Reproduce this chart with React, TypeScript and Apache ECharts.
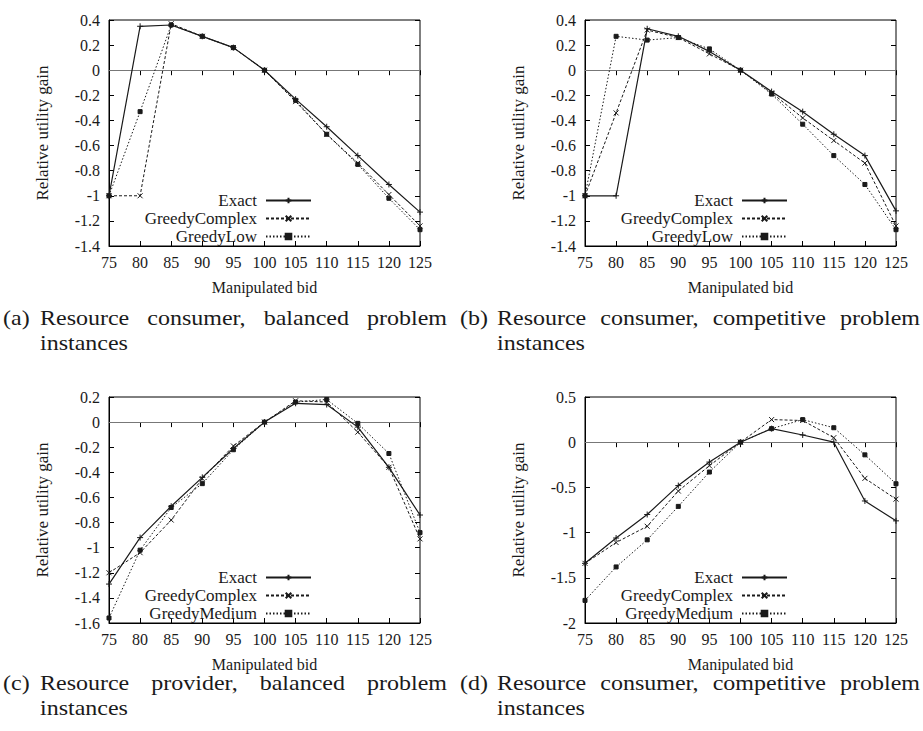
import React, { useEffect, useRef } from "react";
import * as echarts from "echarts";

// ---------- data ----------
const bids = [75, 80, 85, 90, 95, 100, 105, 110, 115, 120, 125];

const aExact = [-1.0, 0.35, 0.36, 0.27, 0.18, 0, -0.23, -0.45, -0.68, -0.91, -1.13];
const aGreedyComplex = [-1.0, -1.0, 0.37, 0.27, 0.18, 0, -0.25, -0.51, -0.74, -0.99, -1.24];
const aGreedyLow = [-1.0, -0.33, 0.36, 0.27, 0.18, 0, -0.24, -0.51, -0.75, -1.02, -1.27];

const bExact = [-1.0, -1.0, 0.33, 0.27, 0.15, 0, -0.17, -0.33, -0.51, -0.68, -1.12];
const bGreedyComplex = [-1.0, -0.34, 0.32, 0.26, 0.13, 0, -0.18, -0.38, -0.56, -0.74, -1.24];
const bGreedyLow = [-1.0, 0.27, 0.24, 0.26, 0.17, 0, -0.19, -0.43, -0.68, -0.91, -1.27];

const cExact = [-1.29, -0.92, -0.67, -0.44, -0.21, 0, 0.15, 0.14, -0.04, -0.36, -0.74];
const cGreedyComplex = [-1.2, -1.04, -0.78, -0.45, -0.19, 0, 0.17, 0.16, -0.08, -0.36, -0.93];
const cGreedyMedium = [-1.56, -1.02, -0.68, -0.49, -0.22, 0, 0.16, 0.18, -0.01, -0.25, -0.88];

const dExact = [-1.34, -1.06, -0.8, -0.48, -0.22, 0, 0.15, 0.08, 0, -0.65, -0.87];
const dGreedyComplex = [-1.34, -1.11, -0.93, -0.54, -0.26, 0, 0.25, 0.24, 0.05, -0.4, -0.63];
const dGreedyMedium = [-1.75, -1.38, -1.08, -0.71, -0.33, 0, 0.15, 0.25, 0.16, -0.14, -0.46];

// y-axis ranges: [min, max, interval]
const yRangeA = [-1.4, 0.4, 0.2];
const yRangeB = [-1.4, 0.4, 0.2];
const yRangeC = [-1.6, 0.2, 0.2];
const yRangeD = [-2, 0.5, 0.5];
const xRange = [75, 125, 5];

const xTitle = "Manipulated bid";
const yTitle = "Relative utility gain";

const panelData = [
  { names: ["Exact", "GreedyComplex", "GreedyLow"], values: [aExact, aGreedyComplex, aGreedyLow], y: yRangeA },
  { names: ["Exact", "GreedyComplex", "GreedyLow"], values: [bExact, bGreedyComplex, bGreedyLow], y: yRangeB },
  { names: ["Exact", "GreedyComplex", "GreedyMedium"], values: [cExact, cGreedyComplex, cGreedyMedium], y: yRangeC },
  { names: ["Exact", "GreedyComplex", "GreedyMedium"], values: [dExact, dGreedyComplex, dGreedyMedium], y: yRangeD },
];

const captionLabels = ["(a)", "(b)", "(c)", "(d)"];
const captionLine1 = [
  "Resource consumer, balanced problem",
  "Resource consumer, competitive problem",
  "Resource provider, balanced problem",
  "Resource consumer, competitive problem",
];
const captionLine2 = ["instances", "instances", "instances", "instances"];

// ---------- layout / style ----------
const W = 923;
const H = 731;
const FONT = "Liberation Serif";
const CAP_FONT_SIZE = 20;
const CAP_SCALE_X = 1.2;
const GRID_W = 311;
const GRID_H = 226;
const layout = [
  { left: 109, top: 20, legRight: 312, legTop: 192, capX: 3, capTextX: 40, capEnd: 447, capY: 318 },
  { left: 585, top: 20, legRight: 788, legTop: 192, capX: 460, capTextX: 497, capEnd: 920, capY: 318 },
  { left: 109, top: 397, legRight: 312, legTop: 569, capX: 3, capTextX: 40, capEnd: 447, capY: 683 },
  { left: 585, top: 397, legRight: 788, legTop: 569, capX: 460, capTextX: 497, capEnd: 920, capY: 683 },
];

const INK = "#1a1a1a";
const seriesStyles = [
  { symbol: "path://M5,0L5,10M0,5L10,5", symbolSize: 6, lineType: "solid" as any, lineWidth: 1.2 },
  { symbol: "path://M0,0L10,10M10,0L0,10", symbolSize: 5, lineType: [3, 2] as any, lineWidth: 1 },
  { symbol: "rect", symbolSize: 4, lineType: [1.5, 2] as any, lineWidth: 1 },
];

const fmt = (v: number) => String(Math.round(v * 10) / 10);

function justifyWords(text: string, x0: number, x1: number, font: string, sx: number) {
  const words = text.split(" ");
  const canvas = document.createElement("canvas");
  const ctx = canvas.getContext("2d")!;
  ctx.font = font;
  const widths = words.map((w) => ctx.measureText(w).width * sx);
  const total = widths.reduce((s, w) => s + w, 0);
  const gap = words.length > 1 ? (x1 - x0 - total) / (words.length - 1) : 0;
  const out: { word: string; x: number }[] = [];
  let x = x0;
  words.forEach((w, i) => {
    out.push({ word: w, x });
    x += widths[i] + gap;
  });
  return out;
}

function buildOption() {
  const grid: any[] = [];
  const xAxis: any[] = [];
  const yAxis: any[] = [];
  const series: any[] = [];
  const legend: any[] = [];
  const graphic: any[] = [];

  const tick = { show: true, inside: true, length: 5, lineStyle: { color: "#000", width: 1 } };
  const capFont = `${CAP_FONT_SIZE}px "${FONT}"`;
  const capStyle = (text: string) => ({
    text,
    fontFamily: FONT,
    fontSize: CAP_FONT_SIZE,
    fill: INK,
    verticalAlign: "middle",
  });

  panelData.forEach((p, i) => {
    const L = layout[i];
    grid.push({
      left: L.left,
      top: L.top,
      width: GRID_W,
      height: GRID_H,
      show: true,
      borderColor: "#000",
      borderWidth: 1,
      backgroundColor: "transparent",
    });
    const [ymin, ymax, yint] = p.y;
    xAxis.push({
      type: "value",
      gridIndex: i,
      position: "bottom",
      min: xRange[0],
      max: xRange[1],
      interval: xRange[2],
      name: xTitle,
      nameLocation: "middle",
      nameGap: 33,
      nameTextStyle: { fontFamily: FONT, fontSize: 16, color: INK },
      axisLine: { show: true, onZero: false, lineStyle: { color: "#000", width: 1 } },
      axisTick: tick,
      axisLabel: { fontFamily: FONT, fontSize: 16, color: INK, margin: 8 },
      splitLine: { show: false },
    });
    xAxis.push({
      type: "value",
      gridIndex: i,
      position: "top",
      min: xRange[0],
      max: xRange[1],
      interval: xRange[2],
      axisLine: { show: false },
      axisTick: tick,
      axisLabel: { show: false },
      splitLine: { show: false },
    });
    yAxis.push({
      type: "value",
      gridIndex: i,
      position: "left",
      min: ymin,
      max: ymax,
      interval: yint,
      name: yTitle,
      nameLocation: "middle",
      nameGap: 58,
      nameTextStyle: { fontFamily: FONT, fontSize: 17, color: INK },
      axisLine: { show: true, onZero: false, lineStyle: { color: "#000", width: 1 } },
      axisTick: tick,
      axisLabel: { fontFamily: FONT, fontSize: 16, color: INK, margin: 9, formatter: fmt },
      splitLine: { show: false },
    });
    yAxis.push({
      type: "value",
      gridIndex: i,
      position: "right",
      min: ymin,
      max: ymax,
      interval: yint,
      axisLine: { show: false },
      axisTick: tick,
      axisLabel: { show: false },
      splitLine: { show: false },
    });

    p.names.forEach((name, k) => {
      const st = seriesStyles[k];
      const s: any = {
        type: "line",
        name,
        xAxisIndex: 2 * i,
        yAxisIndex: 2 * i,
        data: bids.map((b, j) => [b, p.values[k][j]]),
        symbol: st.symbol,
        symbolSize: st.symbolSize,
        showAllSymbol: true,
        lineStyle: { color: INK, width: st.lineWidth, type: st.lineType },
        itemStyle: { color: INK, borderColor: INK, borderWidth: 1 },
        emphasis: { disabled: true },
        z: 3 + (2 - k),
      };
      if (k === 0) {
        s.markLine = {
          silent: true,
          symbol: ["none", "none"],
          label: { show: false },
          lineStyle: { color: "#777", width: 1, type: "solid" },
          data: [{ yAxis: 0 }],
          z: 1,
        };
      }
      series.push(s);
    });

    legend.push({
      orient: "vertical",
      align: "right",
      right: W - L.legRight,
      top: L.legTop,
      padding: 0,
      itemWidth: 45,
      itemHeight: 7,
      itemGap: 1,
      data: p.names,
      selectedMode: false,
      textStyle: { fontFamily: FONT, fontSize: 17, color: INK, padding: [0, 4, 0, 0] },
    });

    // caption
    graphic.push({
      type: "text",
      x: L.capX,
      y: L.capY,
      scaleX: CAP_SCALE_X,
      style: capStyle(captionLabels[i]),
    });
    justifyWords(captionLine1[i], L.capTextX, L.capEnd, capFont, CAP_SCALE_X).forEach((w) => {
      graphic.push({
        type: "text",
        x: w.x,
        y: L.capY,
        scaleX: CAP_SCALE_X,
        style: capStyle(w.word),
      });
    });
    graphic.push({
      type: "text",
      x: L.capTextX,
      y: L.capY + 25,
      scaleX: CAP_SCALE_X,
      style: capStyle(captionLine2[i]),
    });
  });

  return {
    animation: false,
    backgroundColor: "#fff",
    grid,
    xAxis,
    yAxis,
    series,
    legend,
    graphic,
  };
}

export default function App() {
  const ref = useRef<HTMLDivElement>(null);
  useEffect(() => {
    if (!ref.current) return;
    const chart = echarts.init(ref.current, undefined, { renderer: "svg" });
    chart.setOption(buildOption() as any);
    return () => chart.dispose();
  }, []);
  return (
    <div
      ref={ref}
      style={{ position: "fixed", left: 0, top: 0, width: W, height: H, background: "#fff" }}
    />
  );
}
